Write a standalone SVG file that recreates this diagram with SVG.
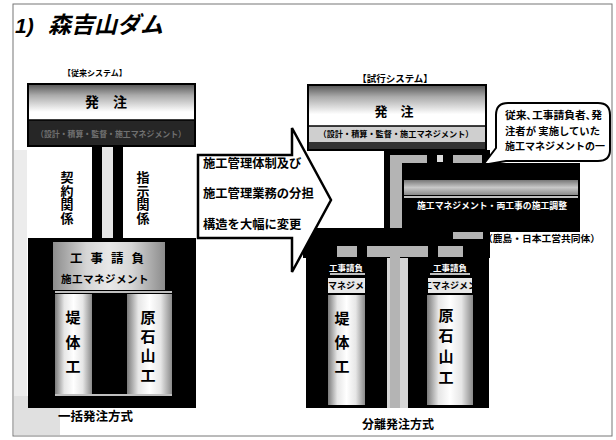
<svg xmlns="http://www.w3.org/2000/svg" width="616" height="440" viewBox="0 0 616 440">
<style>
.jp{font-family:"Noto Sans CJK JP","Noto Sans CJK SC",sans-serif;font-weight:bold;fill:#000}
.lat{font-family:"Liberation Sans",Arial,sans-serif;font-weight:bold;font-style:italic}
.mid{text-anchor:middle}
.vt{writing-mode:vertical-rl;text-orientation:upright}
.blk{fill:#000}
.pipe{fill:#b4b4b4}
.wl{stroke:#fff;stroke-width:1.5}
.col{fill:url(#gCol)}
</style>
<defs>
<linearGradient id="gTop" x1="0" y1="0" x2="0" y2="1">
<stop offset="0" stop-color="#555"/><stop offset="0.18" stop-color="#aaa"/><stop offset="0.45" stop-color="#fff"/><stop offset="1" stop-color="#fff"/>
</linearGradient>
<linearGradient id="gCol" x1="0" y1="0" x2="1" y2="0">
<stop offset="0" stop-color="#7a7a7a"/><stop offset="0.25" stop-color="#e6e6e6"/><stop offset="0.5" stop-color="#fff"/><stop offset="0.75" stop-color="#e6e6e6"/><stop offset="1" stop-color="#8a8a8a"/>
</linearGradient>
<linearGradient id="gBand" x1="0" y1="0" x2="1" y2="0">
<stop offset="0" stop-color="#8c8c8c"/><stop offset="0.3" stop-color="#d6d6d6"/><stop offset="0.5" stop-color="#e8e8e8"/><stop offset="0.7" stop-color="#d6d6d6"/><stop offset="1" stop-color="#8c8c8c"/>
</linearGradient>
<linearGradient id="gMid" x1="0" y1="0" x2="0" y2="1">
<stop offset="0" stop-color="#777"/><stop offset="0.5" stop-color="#c8c8c8"/><stop offset="1" stop-color="#888"/>
</linearGradient>
<clipPath id="c1"><rect x="328" y="278" width="37" height="15"/></clipPath>
<clipPath id="c2"><rect x="428" y="278" width="44" height="15"/></clipPath>
</defs>

<rect width="616" height="440" fill="#fff"/>
<rect x="13" y="4" width="599" height="432" fill="none" stroke="#777" stroke-width="1"/>
<rect x="14" y="150" width="13" height="285" fill="#ececec"/>
<rect x="14" y="396" width="46" height="39" fill="#e0e0e0"/>

<g id="title">
<text x="15" y="33" font-size="21" class="lat">1) <tspan x="48" class="jp" font-size="23" font-style="italic">森吉山ダム</tspan></text>
</g>

<g id="left-heading"><text class="jp mid" x="95" y="76" font-size="8">【従来システム】</text></g>
<g id="right-heading"><text class="jp mid" x="395" y="82" font-size="9.5">【試行システム】</text></g>

<g id="connectors">
<rect class="blk" x="92" y="146" width="10" height="92"/>
<rect x="102" y="146" width="11" height="92" fill="#e6e6e6"/>
<rect class="blk" x="113" y="146" width="10" height="92"/>
<rect class="blk" x="384" y="150" width="106" height="15"/>
<rect class="blk" x="384" y="150" width="20" height="82"/>
<rect class="blk" x="303" y="228" width="187" height="30"/>
<rect class="pipe" x="390" y="155" width="37" height="8"/>
<rect class="pipe" x="390" y="155" width="12" height="73"/>
<rect x="437" y="155" width="6" height="7" fill="#ddd"/>
<rect class="pipe" x="453" y="155" width="29" height="8"/>
<rect class="pipe" x="337" y="246" width="20" height="11"/>
<rect class="pipe" x="367" y="246" width="61" height="11"/>
<rect class="pipe" x="438" y="246" width="25" height="11"/>
<rect class="pipe" x="453" y="232" width="30" height="7"/>
</g>

<g id="left-order">
<rect x="28" y="84" width="167" height="62" fill="url(#gTop)" stroke="#000" stroke-width="2"/>
<rect x="29" y="120" width="165" height="25" fill="#262626"/>
<line x1="28" y1="120" x2="195" y2="120" stroke="#000" stroke-width="1.5"/>
<text class="jp mid" x="106" y="107" font-size="14">発　注</text>
<text class="jp mid" x="111" y="137" font-size="8.5" style="fill:#707070" textLength="150" lengthAdjust="spacingAndGlyphs">（設計・積算・監督・施工マネジメント）</text>
</g>

<g id="left-relations">
<text class="jp vt" x="67" y="170.5" font-size="13" letter-spacing="0.7">契約関係</text>
<text class="jp vt" x="143" y="170.5" font-size="13" letter-spacing="0.7">指示関係</text>
</g>

<g id="left-contractor">
<rect class="blk" x="28" y="238" width="168" height="170"/>
<rect x="53" y="242" width="112" height="48" fill="url(#gBand)"/>
<text class="jp mid" x="111" y="263" font-size="12.5" letter-spacing="8">工事請負</text>
<text class="jp mid" x="105" y="283" font-size="10.5" letter-spacing="0.5">施工マネジメント</text>
<line class="wl" x1="55" y1="292" x2="172" y2="292"/>
<rect class="col" x="55" y="294" width="37" height="100"/>
<rect class="col" x="127" y="294" width="45" height="100"/>
<line class="wl" x1="55" y1="395" x2="172" y2="395"/>
<text class="jp vt" x="73" y="310" font-size="15" letter-spacing="9.5">堤体工</text>
<text class="jp vt" x="148" y="309.5" font-size="15" letter-spacing="4.3">原石山工</text>
<text class="jp" x="58" y="421" font-size="12.5">一括発注方式</text>
</g>

<g id="arrow">
<polygon points="198,155 292,155 292,128 331,200 292,272 292,238 198,238" fill="#fff" stroke="#000" stroke-width="2.5" stroke-linejoin="miter"/>
<text class="jp" x="203" y="168" font-size="12.3">施工管理体制及び</text>
<text class="jp" x="203" y="198" font-size="12.3">施工管理業務の分担</text>
<text class="jp" x="203" y="229" font-size="12.3">構造を大幅に変更</text>
</g>

<g id="right-order">
<rect x="308" y="85" width="178" height="65" fill="url(#gTop)" stroke="#000" stroke-width="2"/>
<rect x="309" y="126" width="176" height="16" fill="#cfcfcf"/>
<rect x="309" y="142" width="176" height="7" fill="#333"/>
<line x1="308" y1="126" x2="486" y2="126" stroke="#000" stroke-width="1.5"/>
<text class="jp mid" x="394" y="116" font-size="13">発　注</text>
<text class="jp mid" x="396" y="137" font-size="8.5" textLength="155" lengthAdjust="spacingAndGlyphs">（設計・積算・監督・施工マネジメント）</text>
</g>

<g id="callout">
<path d="M508 103 H598 Q610 103 610 115 V150 Q610 161 598 161 H506 L483 165 L496 148 V115 Q496 103 508 103 Z" fill="#fff" stroke="#000" stroke-width="2" stroke-linejoin="round"/>
<text class="jp" x="505" y="119" font-size="10" textLength="97" lengthAdjust="spacingAndGlyphs">従来､工事請負者､発</text>
<text class="jp" x="505" y="135" font-size="10" textLength="95" lengthAdjust="spacingAndGlyphs">注者が 実施していた</text>
<text class="jp" x="505" y="150" font-size="10" textLength="100" lengthAdjust="spacingAndGlyphs">施工マネジメントの一</text>
</g>

<g id="cm-box">
<rect class="blk" x="402" y="163" width="178" height="69"/>
<rect x="404" y="180" width="174" height="15" fill="url(#gMid)"/>
<line class="wl" x1="404" y1="197" x2="578" y2="197"/>
<text class="jp mid" x="492" y="209" font-size="9" textLength="150" lengthAdjust="spacingAndGlyphs" style="fill:#fff">施工マネジメント・両工事の施工調整</text>
<text class="jp" x="483" y="242" font-size="9.5" textLength="117" lengthAdjust="spacingAndGlyphs">（鹿島・日本工営共同体）</text>
</g>

<g id="right-contractor-1">
<rect class="blk" x="306" y="246" width="81" height="162"/>
<rect x="367" y="246" width="20" height="11" class="pipe"/>
<rect x="337" y="246" width="20" height="11" class="pipe"/>
<text class="jp mid" x="346" y="271" font-size="8.5" style="fill:#fff">工事請負</text>
<line class="wl" x1="330" y1="274" x2="365" y2="274"/>
<rect x="328" y="278" width="37" height="15" fill="#e8e8e8"/>
<text class="jp mid" x="346" y="289" font-size="9" clip-path="url(#c1)">施工マネジメント</text>
<rect class="col" x="328" y="295" width="37" height="110"/>
<text class="jp vt" x="342" y="310.5" font-size="15" letter-spacing="9">堤体工</text>
</g>

<rect x="387" y="258" width="21" height="150" fill="#d6d6d6"/>
<rect x="390" y="246" width="10" height="162" class="pipe"/>

<g id="right-contractor-2">
<rect class="blk" x="408" y="246" width="81" height="162"/>
<rect x="408" y="246" width="20" height="11" class="pipe"/>
<rect x="438" y="246" width="25" height="11" class="pipe"/>
<text class="jp mid" x="450" y="271" font-size="8.5" style="fill:#fff">工事請負</text>
<line class="wl" x1="430" y1="274" x2="470" y2="274"/>
<rect x="428" y="278" width="44" height="15" fill="#e8e8e8"/>
<text class="jp mid" x="450" y="289" font-size="9" clip-path="url(#c2)">施工マネジメント</text>
<rect class="col" x="427" y="295" width="46" height="110"/>
<text class="jp vt" x="446" y="307.5" font-size="15" letter-spacing="5.7">原石山工</text>
<text class="jp mid" x="398" y="429" font-size="12">分離発注方式</text>
</g>
</svg>
